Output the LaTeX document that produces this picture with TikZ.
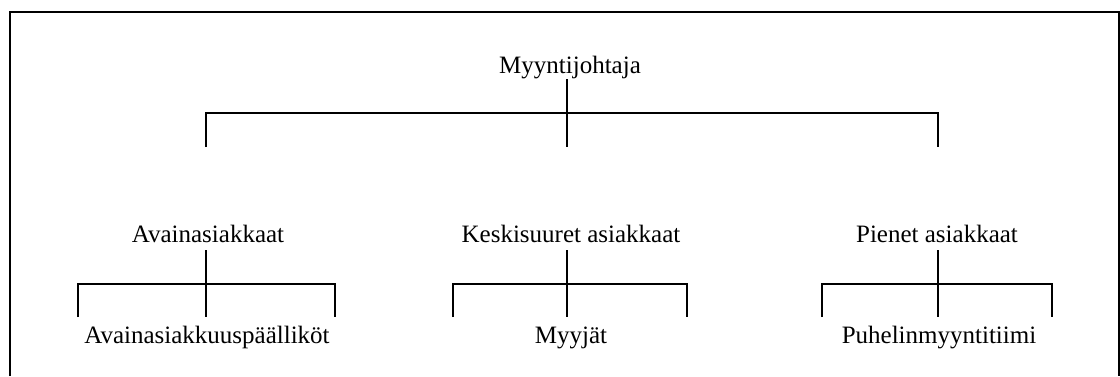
\documentclass[tikz,border=0pt]{standalone}
\usepackage{fontspec}
\setmainfont{Liberation Serif}

\begin{document}
\begin{tikzpicture}[
        x=0.5pt, y=-0.5pt,
        line width=1pt
        ]
    % Define styles
    \tikzstyle{unit} = [inner sep=0pt, anchor=base, font=\fontsize{12.5}{15}\selectfont]

    \useasboundingbox (0,0) rectangle (1120,376);

    % Outer frame, open at the bottom
    \draw (10,376) |- (1119,12) -- (1119,376);

    % Define top node
    \node[unit] (mj) at (570,73) {Myyntijohtaja};

    % Define customer group nodes
    \node[unit] (ak) at (208,242) {Avainasiakkaat};
    \node[unit] (ks) at (571,242) {Keskisuuret asiakkaat};
    \node[unit] (pa) at (937,242) {Pienet asiakkaat};

    % Define team nodes
    \node[unit] (akp) at (207,343) {Avainasiakkuuspäälliköt};
    \node[unit] (myy) at (571,343) {Myyjät};
    \node[unit] (pmt) at (939,343) {Puhelinmyyntitiimi};

    % Define junction coordinates
    \coordinate (mj1) at (567,79);
    \coordinate (mj2) at (567,113);
    \coordinate (mj3) at (567,147);
    \coordinate (akdrop) at (206,147);
    \coordinate (padrop) at (938,147);

    \coordinate (ak1) at (206,250);
    \coordinate (ak2) at (206,284);
    \coordinate (ak3) at (206,317);
    \coordinate (akL) at (78,317);
    \coordinate (akR) at (335,317);

    \coordinate (ks1) at (567,250);
    \coordinate (ks2) at (567,284);
    \coordinate (ks3) at (567,317);
    \coordinate (ksL) at (453,317);
    \coordinate (ksR) at (687,317);

    \coordinate (pa1) at (938,250);
    \coordinate (pa2) at (938,284);
    \coordinate (pa3) at (938,317);
    \coordinate (paL) at (822,317);
    \coordinate (paR) at (1052,317);

    % Draw the top bracket
    \draw (mj1) -- (mj3);
    \draw (akdrop) |- (mj2) -| (padrop);

    % Draw the brackets under each group
    \draw (ak1) -- (ak3);
    \draw (akL) |- (ak2) -| (akR);
    \draw (ks1) -- (ks3);
    \draw (ksL) |- (ks2) -| (ksR);
    \draw (pa1) -- (pa3);
    \draw (paL) |- (pa2) -| (paR);

\end{tikzpicture}
\end{document}
